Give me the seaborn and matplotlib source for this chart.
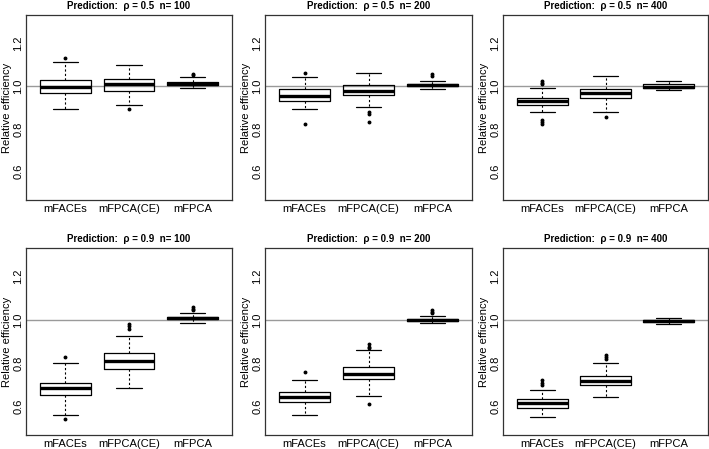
import matplotlib
matplotlib.use("Agg")
import matplotlib.pyplot as plt
import seaborn as sns

sns.set_theme(style="white")
plt.rcParams["font.family"] = ["Liberation Sans", "DejaVu Sans"]

# Methods and panels
methods = ["mFACEs", "mFPCA(CE)", "mFPCA"]
rhos = ["0.5", "0.5", "0.5", "0.9", "0.9", "0.9"]
ns = ["100", "200", "400", "100", "200", "400"]

# Box summaries, one row per panel, one value per method
whislo = [
    [0.892, 0.911, 0.991],
    [0.895, 0.902, 0.986],
    [0.880, 0.878, 0.982],
    [0.560, 0.685, 0.986],
    [0.560, 0.650, 0.985],
    [0.550, 0.645, 0.983],
]
q1 = [
    [0.968, 0.978, 1.006],
    [0.932, 0.957, 1.002],
    [0.914, 0.943, 0.991],
    [0.652, 0.775, 1.003],
    [0.622, 0.725, 0.993],
    [0.595, 0.700, 0.990],
]
med = [
    [0.997, 1.008, 1.012],
    [0.955, 0.978, 1.007],
    [0.931, 0.968, 0.998],
    [0.683, 0.810, 1.009],
    [0.643, 0.752, 0.998],
    [0.615, 0.718, 0.995],
]
q3 = [
    [1.028, 1.032, 1.020],
    [0.985, 1.006, 1.012],
    [0.946, 0.988, 1.008],
    [0.710, 0.845, 1.014],
    [0.665, 0.780, 1.003],
    [0.633, 0.742, 0.999],
]
whishi = [
    [1.112, 1.098, 1.043],
    [1.043, 1.062, 1.026],
    [0.992, 1.046, 1.023],
    [0.800, 0.925, 1.033],
    [0.720, 0.860, 1.018],
    [0.675, 0.800, 1.008],
]
fliers = [
    [[1.132], [0.892], [1.051, 1.058]],
    [[1.063, 0.823], [0.877, 0.868, 0.831], [1.047, 1.055]],
    [[1.008, 1.015, 1.023, 0.843, 0.832, 0.822], [0.854], []],
    [[0.828, 0.540], [0.960, 0.970, 0.980], [1.045, 1.052, 1.060]],
    [[0.757], [0.870, 0.875, 0.890, 0.610], [1.030, 1.037, 1.045]],
    [[0.700, 0.710, 0.720], [0.820, 0.828, 0.836], []],
]
yticks = [0.6, 0.8, 1.0, 1.2]

fig = plt.figure(figsize=(7.09, 4.49), dpi=100)

W, H = 709, 449
col_px = [(26, 232), (265, 472), (503, 708)]
row_px = [(15, 200), (248, 435)]

for i in range(6):
    r, c = divmod(i, 3)
    x0, x1 = col_px[c]
    y0, y1 = row_px[r]
    ax = fig.add_axes([x0 / W, 1 - y1 / H, (x1 - x0) / W, (y1 - y0) / H])

    stats = []
    for j, m in enumerate(methods):
        stats.append(dict(label=m, med=med[i][j], q1=q1[i][j], q3=q3[i][j],
                          whislo=whislo[i][j], whishi=whishi[i][j],
                          fliers=fliers[i][j]))

    ax.axhline(1.0, color="#9a9a9a", lw=1.0, zorder=1)
    ax.bxp(stats, positions=[1, 2, 3], widths=0.8, capwidths=0.4,
           boxprops=dict(color="black", lw=0.9),
           medianprops=dict(color="black", lw=2.4, solid_capstyle="butt"),
           whiskerprops=dict(color="black", lw=0.8, linestyle=(0, (2, 2))),
           capprops=dict(color="black", lw=0.9),
           flierprops=dict(marker="o", markersize=1.8, markerfacecolor="black",
                           markeredgecolor="black", linestyle="none"),
           zorder=2)

    ax.set_xlim(0.38, 3.62)
    ax.set_ylim(0.468, 1.332)
    ax.set_yticks(yticks)
    ax.set_yticklabels([f"{v:.1f}" for v in yticks], rotation=90, va="center")
    ax.set_xticks([1, 2, 3])
    ax.set_xticklabels(methods)
    ax.tick_params(axis="both", length=0, labelsize=8, colors="black")
    ax.tick_params(axis="y", pad=2)
    ax.tick_params(axis="x", pad=3)
    ax.set_ylabel("Relative efficiency", fontsize=8, labelpad=1, color="black")
    ax.set_title(f"Prediction:  \u03c1 = {rhos[i]}  n= {ns[i]}", fontsize=7,
                 fontweight="bold", pad=4, color="black")
    for s in ax.spines.values():
        s.set_color("#333333")
        s.set_linewidth(0.9)

fig.savefig("out.png", dpi=100)
